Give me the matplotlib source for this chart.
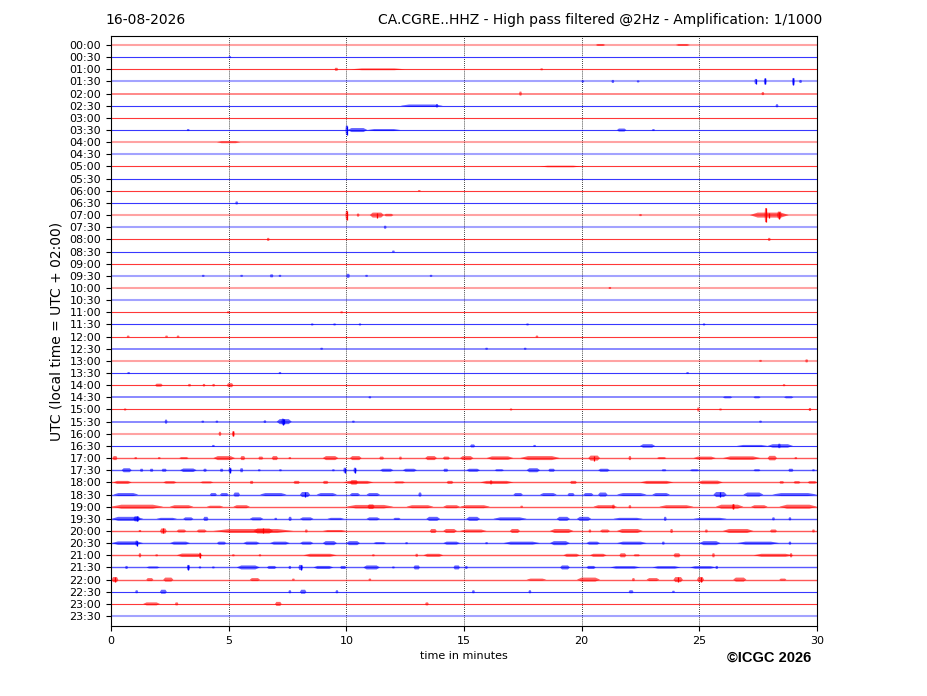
import matplotlib
matplotlib.use("Agg")
import matplotlib.pyplot as plt

# helicorder rows (UTC start of each 30 min line)
row_labels = ["00:00", "00:30", "01:00", "01:30", "02:00", "02:30", "03:00", "03:30",
              "04:00", "04:30", "05:00", "05:30", "06:00", "06:30", "07:00", "07:30",
              "08:00", "08:30", "09:00", "09:30", "10:00", "10:30", "11:00", "11:30",
              "12:00", "12:30", "13:00", "13:30", "14:00", "14:30", "15:00", "15:30",
              "16:00", "16:30", "17:00", "17:30", "18:00", "18:30", "19:00", "19:30",
              "20:00", "20:30", "21:00", "21:30", "22:00", "22:30", "23:00", "23:30"]

# background noise level of each line (peak-to-peak, px)
base_amp = [2, 1, 1, 2, 1.5, 1, 1, 1,
            2, 2, 1, 1, 1, 1, 2, 2,
            1, 1, 1, 2, 2, 2, 1, 1,
            1, 1.5, 2, 1, 1, 1.5, 1, 1.5,
            2, 1, 1.3, 1.3, 1.3, 1.3, 1.3, 1.3,
            1.3, 1.3, 1.3, 1.3, 1.3, 1, 1, 2]

# bursts: (start minute, end minute, peak-to-peak px)
events = {
    "00:00": [(20.6, 21.0, 2), (24.0, 24.6, 2)],
    "00:30": [(5.05, 5.05, 2)],
    "01:00": [(9.5, 9.65, 3), (10.2, 12.5, 1.8), (18.3, 18.3, 2)],
    "01:30": [(20.05, 20.05, 2), (21.3, 21.35, 3), (22.4, 22.4, 2), (27.4, 27.4, 5),
              (27.8, 27.8, 6), (29.0, 29.0, 7), (29.3, 29.3, 3)],
    "02:00": [(17.4, 17.4, 4), (27.7, 27.7, 3)],
    "02:30": [(12.3, 14.1, 2.5), (13.85, 13.85, 3.5), (28.3, 28.3, 3)],
    "03:30": [(3.28, 3.28, 2), (10.02, 10.02, 9), (10.05, 10.9, 4), (10.9, 12.3, 2),
              (21.5, 21.9, 3), (23.05, 23.05, 2)],
    "04:00": [(4.5, 5.5, 2)],
    "05:00": [(18.2, 20.0, 1.6)],
    "06:00": [(13.1, 13.1, 1.5)],
    "06:30": [(5.34, 5.34, 3)],
    "07:00": [(10.02, 10.02, 9), (10.5, 10.5, 3), (11.0, 11.6, 5), (11.6, 12.0, 2.5),
              (22.5, 22.5, 2), (27.15, 28.8, 5), (27.83, 27.83, 14), (28.3, 28.5, 7)],
    "07:30": [(11.65, 11.65, 3)],
    "08:00": [(6.68, 6.68, 3), (27.97, 27.97, 3)],
    "08:30": [(12.0, 12.0, 2)],
    "09:30": [(3.92, 3.92, 2), (5.55, 5.55, 2), (6.75, 6.9, 3), (7.18, 7.18, 2),
              (10.0, 10.15, 4), (10.86, 10.86, 2), (13.6, 13.6, 2)],
    "10:00": [(21.2, 21.2, 2)],
    "11:00": [(4.98, 4.98, 2), (9.8, 9.8, 2)],
    "11:30": [(8.55, 8.55, 2), (9.5, 9.5, 2), (10.58, 10.58, 2), (17.7, 17.7, 2),
              (25.2, 25.2, 2)],
    "12:00": [(0.73, 0.73, 2), (2.36, 2.36, 2), (2.85, 2.85, 2), (18.1, 18.1, 2)],
    "12:30": [(8.95, 8.95, 2), (15.96, 15.96, 2), (17.6, 17.6, 2)],
    "13:00": [(27.6, 27.6, 2), (29.56, 29.56, 3)],
    "13:30": [(0.75, 0.75, 2), (7.18, 7.18, 2), (24.5, 24.5, 2)],
    "14:00": [(1.87, 2.2, 3), (3.27, 3.4, 2.5), (3.9, 4.0, 2.5), (4.3, 4.42, 2.5),
              (4.92, 5.2, 4), (28.6, 28.6, 2)],
    "14:30": [(11.0, 11.0, 2), (26.0, 26.4, 2), (27.3, 27.6, 2), (28.6, 29.0, 2)],
    "15:00": [(0.6, 0.6, 2), (17.0, 17.0, 2), (24.96, 24.96, 4), (25.9, 25.9, 2),
              (29.7, 29.7, 3)],
    "15:30": [(2.34, 2.34, 4), (3.9, 3.9, 2), (4.5, 4.5, 2), (6.54, 6.54, 2.5),
              (7.04, 7.68, 5), (7.3, 7.3, 6), (10.3, 10.3, 2), (27.6, 27.6, 2)],
    "16:00": [(4.63, 4.63, 4), (5.2, 5.2, 5)],
    "16:30": [(4.35, 4.35, 2), (15.26, 15.47, 3), (18.0, 18.0, 2), (22.48, 23.12, 3.5),
              (26.6, 27.9, 2), (27.9, 28.98, 3.5), (28.4, 28.4, 4.5)],
    "17:00": [(0.07, 0.27, 4), (1.0, 1.1, 2), (2.0, 2.1, 2), (2.9, 3.3, 2),
              (4.35, 5.27, 4), (5.5, 5.7, 4), (6.26, 6.47, 3), (6.83, 7.1, 4), (7.6, 7.6, 2),
              (9.0, 9.66, 4), (10.15, 10.65, 4), (11.4, 11.6, 3), (12.3, 12.3, 3),
              (13.35, 13.85, 4), (14.1, 14.4, 3), (14.83, 15.4, 4), (15.96, 17.1, 3.5),
              (17.38, 19.08, 4), (20.28, 20.78, 5), (22.05, 22.05, 4), (23.2, 23.6, 2),
              (24.75, 25.7, 3), (26.0, 27.6, 3.5), (27.9, 28.3, 4.5), (29.1, 29.1, 2)],
    "17:30": [(0.45, 0.88, 4), (1.23, 1.37, 3), (1.65, 1.8, 3), (2.15, 2.37, 3),
              (2.93, 3.64, 3.5), (3.92, 4.07, 3), (4.63, 4.77, 3), (4.99, 5.13, 5),
              (5.48, 5.62, 4), (6.3, 6.3, 2), (7.2, 7.2, 2), (9.45, 9.45, 2),
              (9.87, 10.0, 5), (10.3, 10.44, 5), (11.43, 12.0, 3), (12.4, 13.0, 3),
              (14.12, 14.33, 3), (15.1, 15.68, 3), (16.3, 16.7, 2), (17.66, 18.23, 4),
              (18.58, 18.87, 3), (20.7, 21.2, 3), (23.4, 23.6, 2), (24.6, 25.0, 2),
              (27.3, 27.6, 2), (28.78, 29.0, 3), (29.85, 29.85, 2)],
    "18:00": [(0.1, 0.88, 3), (2.22, 2.79, 2.5), (3.78, 4.35, 2), (5.9, 6.05, 3),
              (7.75, 8.03, 3), (9.0, 9.24, 3), (9.87, 11.15, 3), (10.15, 10.5, 4.5),
              (12.0, 12.5, 2), (14.26, 14.55, 3), (15.68, 17.1, 3), (16.1, 16.2, 4),
              (19.5, 19.8, 3), (22.48, 23.9, 3), (24.9, 26.0, 3.5), (28.4, 28.6, 2.5),
              (29.0, 29.3, 2.5), (29.6, 30.0, 2.5)],
    "18:30": [(0.1, 1.16, 3), (4.2, 4.5, 3), (4.63, 5.0, 3), (5.2, 5.48, 4),
              (6.33, 7.46, 3), (8.03, 8.46, 5), (8.74, 9.6, 3), (10.15, 10.58, 3),
              (10.86, 11.43, 3), (13.06, 13.2, 4), (17.1, 17.5, 3), (18.23, 18.94, 3),
              (19.4, 19.7, 3), (20.07, 20.5, 3), (20.7, 21.1, 4), (21.5, 22.76, 3),
              (23.0, 23.75, 3), (25.6, 26.16, 5), (26.87, 27.72, 4), (28.1, 30.0, 3)],
    "19:00": [(0.0, 2.22, 4), (2.5, 3.5, 3), (4.07, 4.77, 2), (5.2, 5.9, 3),
              (10.0, 12.0, 3.5), (10.9, 11.2, 4.5), (12.56, 13.7, 3), (14.12, 14.83, 3),
              (14.83, 16.1, 3), (17.45, 17.45, 2), (20.5, 21.5, 3), (21.35, 21.35, 4),
              (22.05, 22.05, 3), (23.3, 24.75, 3), (25.7, 26.87, 4), (26.45, 26.45, 5),
              (27.2, 27.9, 3), (28.4, 30.0, 4)],
    "19:30": [(0.03, 1.37, 4), (0.95, 1.23, 5), (1.94, 2.8, 2), (3.07, 3.5, 3),
              (3.92, 4.14, 4), (5.9, 6.47, 3), (7.0, 7.0, 2), (7.54, 7.68, 4),
              (8.03, 8.6, 3), (9.2, 9.9, 2), (10.86, 11.43, 3), (12.0, 12.3, 2),
              (13.4, 13.98, 4), (15.1, 15.68, 4), (16.25, 17.66, 3), (18.94, 19.5, 4),
              (19.8, 20.4, 4), (21.35, 22.6, 2), (23.5, 23.6, 4), (24.75, 26.16, 2),
              (28.15, 28.15, 3), (28.85, 28.85, 3)],
    "20:00": [(1.23, 1.23, 2), (2.08, 2.37, 5), (2.79, 3.2, 3), (3.64, 4.07, 3),
              (4.35, 7.75, 4), (6.05, 6.9, 5), (8.3, 8.3, 3), (9.0, 10.0, 2),
              (13.55, 13.84, 4), (14.12, 14.7, 4), (14.83, 15.96, 3), (16.95, 17.38, 4),
              (18.65, 19.65, 4), (20.35, 20.35, 3), (20.78, 21.2, 3), (21.5, 22.6, 4),
              (23.82, 23.82, 4), (25.3, 25.3, 3), (26.0, 27.3, 4), (28.0, 28.3, 3),
              (29.85, 29.85, 3)],
    "20:30": [(0.03, 1.37, 3.5), (1.09, 1.09, 5), (2.5, 3.36, 3), (4.5, 4.9, 3),
              (5.62, 6.33, 3), (6.75, 7.6, 3), (8.03, 8.6, 3), (9.0, 9.6, 4),
              (10.0, 10.58, 4), (11.15, 11.7, 2), (12.56, 12.56, 2), (14.12, 14.83, 3),
              (15.96, 15.96, 2), (16.67, 18.23, 3), (18.65, 19.5, 4), (20.2, 20.78, 3),
              (21.5, 22.76, 3), (23.47, 23.47, 3), (25.0, 25.9, 4), (26.6, 28.4, 3),
              (28.85, 28.85, 3)],
    "21:00": [(1.23, 1.23, 4), (1.94, 1.94, 2), (2.79, 3.92, 3.5), (3.78, 3.78, 5),
              (5.2, 5.2, 2), (6.33, 6.33, 2), (8.17, 9.6, 3), (11.15, 11.15, 2),
              (12.99, 12.99, 3), (13.27, 14.12, 3), (19.22, 19.93, 3), (20.35, 21.06, 3),
              (21.6, 21.9, 4), (22.2, 22.48, 2), (23.9, 24.2, 4), (25.6, 25.6, 4),
              (27.3, 29.0, 3), (28.9, 28.9, 4)],
    "21:30": [(0.66, 0.66, 3), (1.5, 2.08, 2), (3.22, 3.36, 5), (3.78, 3.78, 2),
              (4.35, 4.35, 2), (5.34, 6.33, 4), (6.62, 7.04, 3), (7.6, 7.6, 3),
              (7.96, 8.17, 5), (8.6, 9.45, 3), (9.73, 10.0, 3), (10.72, 11.43, 4),
              (12.0, 12.0, 2), (12.85, 13.13, 4), (14.55, 14.83, 4), (15.1, 15.1, 3),
              (19.08, 19.5, 4), (20.2, 20.6, 3), (21.2, 22.5, 2.5), (23.0, 24.2, 2.5),
              (24.6, 25.7, 2.5), (25.74, 25.74, 3)],
    "22:00": [(0.03, 0.31, 5), (1.5, 1.8, 3), (2.22, 2.65, 4), (5.9, 6.33, 3),
              (7.75, 7.75, 2), (11.0, 11.0, 2), (17.66, 18.5, 2), (19.8, 20.78, 4),
              (22.2, 22.2, 3), (22.76, 23.3, 3), (23.9, 24.3, 5), (24.9, 25.2, 5),
              (26.44, 27.0, 4), (28.4, 28.7, 2)],
    "22:30": [(1.09, 1.09, 3), (2.08, 2.37, 4), (7.6, 7.6, 3), (8.03, 8.3, 4),
              (9.6, 9.6, 3), (15.4, 15.4, 3), (17.8, 17.8, 3), (22.0, 22.2, 3),
              (23.9, 23.9, 2)],
    "23:00": [(1.37, 2.08, 3), (2.72, 2.86, 3), (6.97, 7.25, 4), (13.35, 13.5, 3)],
}

minute_ticks = [0, 5, 10, 15, 20, 25, 30]
row_colors = ["#ff0000", "#0000ff"]

px = 12.15  # pixels between two drum lines


def draw_burst(ax, row, t0, t1, amp, col):
    # tapered blob around the trace, plus a spike line for the big arrivals
    w = max(t1 - t0, 0.12)
    tm = (t0 + t1) / 2
    a, b = tm - w / 2, tm + w / 2
    h = amp / 2 / px
    xs = [a, a + 0.2 * w, b - 0.2 * w, b, b - 0.2 * w, a + 0.2 * w]
    ys = [row, row - h, row - h, row, row + h, row + h]
    ax.fill(xs, ys, color=col, alpha=0.6, lw=0, zorder=3)
    if amp >= 5:
        ax.vlines(tm, row - h, row + h, color=col, lw=0.9, zorder=3)


fig = plt.figure(figsize=(9.27, 6.96), dpi=100)
ax = fig.add_axes([111 / 927, 70 / 696, 706 / 927, 590 / 696])

for i, lab in enumerate(row_labels):
    col = row_colors[i % 2]
    a = base_amp[i]
    ax.plot([0, 30], [i, i], color=col, lw=0.8 + (a - 1) * 0.7,
            alpha=max(0.35, 1.2 - 0.42 * a), solid_capstyle="butt", zorder=2)
    for t0, t1, amp in events.get(lab, []):
        draw_burst(ax, i, t0, t1, amp, col)

ax.set_xlim(0, 30)
ax.set_ylim(47.82, -0.74)
ax.set_xticks(minute_ticks)
ax.set_yticks(range(len(row_labels)))
ax.set_yticklabels(row_labels)
ax.tick_params(axis="both", labelsize=8, length=3.5)
for m in minute_ticks[1:-1]:
    ax.axvline(m, color="black", lw=0.6, linestyle=(0, (1, 1.5)), zorder=1)

ax.set_xlabel("time in minutes", fontsize=8)
ax.set_ylabel("UTC (local time = UTC + 02:00)", fontsize=10)

fig.text(105 / 927, 1 - 20 / 696, "16-08-2026", ha="left", va="center", fontsize=10)
fig.text(822 / 927, 1 - 20 / 696, "CA.CGRE..HHZ - High pass filtered @2Hz - Amplification: 1/1000",
         ha="right", va="center", fontsize=10)
fig.text(811 / 927, 1 - 658 / 696, "\u00a9ICGC 2026", ha="right", va="center",
         fontsize=10.5, fontweight="bold", family=["Liberation Sans", "DejaVu Sans"])

fig.savefig("out.png", dpi=100)
